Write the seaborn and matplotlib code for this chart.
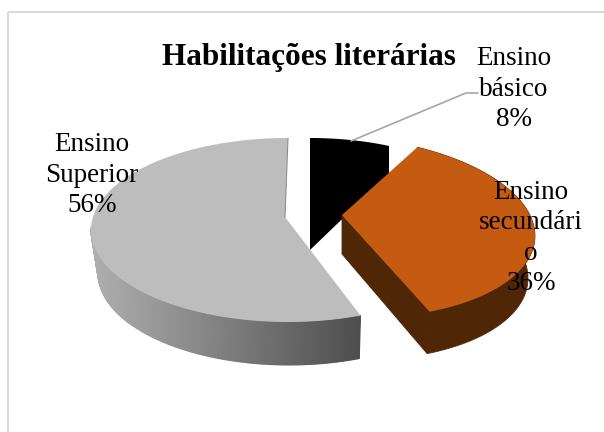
import numpy as np
import matplotlib.pyplot as plt
import seaborn as sns
from matplotlib.patches import Rectangle

# Habilitacoes literarias
categories = ['Ensino\nbásico', 'Ensino\nsecundári\no', 'Ensino\nSuperior']
shares = [8, 36, 56]
title = 'Habilitações literárias'

sns.set_theme(style='white')
plt.rcParams['font.family'] = ['Liberation Serif', 'DejaVu Serif']

top_colors = sns.color_palette(['#000000', '#C55A11', '#BDBDBD'])
wall_color = '#4F2706'

# one ellipse per slice: apex, centre, radii, shear, then the lower rim (in pixels)
shapes = [
    dict(apex=(310, 250), c=(310, 202.5), rx=164, ry=64.5, sh=0),
    dict(apex=(342, 215), c=(341, 227), rx=193, ry=91, sh=19, cb=(341, 269), rxb=186),
    dict(apex=(285, 217), c=(288, 230), rx=197, ry=92, sh=0, cb=(289, 273), rxb=191),
]

fig = plt.figure(figsize=(6.04, 4.32), dpi=100)
ax = fig.add_axes([0, 0, 1, 1])
ax.set_xlim(0, 604)
ax.set_ylim(432, 0)
ax.axis('off')

ax.add_patch(Rectangle((8, 12), 620, 440, fill=False, ec='#D9D9D9', lw=1.5))


def arc(c, rx, ry, sh, t1, t2, n=160):
    t = np.radians(np.linspace(t1, t2, n))
    v = -np.cos(t)
    return c[0] + rx * np.sin(t) + sh * v, c[1] + ry * v


# cumulative angles, clockwise from 12 o'clock
edges = np.cumsum([0] + shares) * 3.6

# black slice first, the orange one sits over its lower side
s = shapes[0]
x, y = arc(s['c'], s['rx'], s['ry'], s['sh'], edges[0], edges[1])
ax.fill(np.r_[s['apex'][0], x, x[-1]], np.r_[s['apex'][1], y, y[-1] + 28],
        color=top_colors[0], lw=0, zorder=2)

# grey slice, front wall shaded from left to right
s = shapes[2]
tx, ty = arc(s['c'], s['rx'], s['ry'], s['sh'], edges[2], 272)
bx, by = arc(s['cb'], s['rxb'], s['ry'], s['sh'], edges[2], 272)
X = np.vstack([tx, bx])
Y = np.vstack([ty, by])
ax.pcolormesh(X, Y, X, cmap=sns.blend_palette(['#B0B0B0', '#4E4E4E'], as_cmap=True),
              shading='gouraud', zorder=3)
x, y = arc(s['c'], s['rx'], s['ry'], s['sh'], edges[2], edges[3])
ax.fill(np.r_[s['apex'][0], x], np.r_[s['apex'][1], y], color=top_colors[2], lw=0, zorder=4)
ax.plot([x[-1], s['apex'][0]], [y[-1], s['apex'][1]], color='#8E8E8E', lw=0.8, zorder=4)

# orange slice with its flat dark wall
s = shapes[1]
x, y = arc(s['c'], s['rx'], s['ry'], s['sh'], edges[1], edges[2])
bx, by = arc(s['cb'], s['rxb'], s['ry'], s['sh'], edges[1], edges[2])
ax.fill(np.r_[x, bx[::-1]], np.r_[y, by[::-1]], color=wall_color, ec=wall_color, lw=0.6, zorder=5)
ax.fill([s['apex'][0], x[-1], bx[-1], s['apex'][0]],
        [s['apex'][1], y[-1], by[-1], s['apex'][1] + 39],
        color=wall_color, ec=wall_color, lw=0.6, zorder=5)
ax.fill(np.r_[s['apex'][0], x], np.r_[s['apex'][1], y], color=top_colors[1], lw=0, zorder=6)

# leader line of the small slice
ax.plot([351, 466, 478], [141, 93, 93], color='#A6A6A6', lw=1.2, zorder=7)

ax.text(309, 57, title, ha='center', va='center', fontsize=22.5, fontweight='bold',
        color='black', zorder=8)
labels = [f'{c}\n{p}%' for c, p in zip(categories, shares)]
positions = [(514, 89), (531, 238), (92, 175)]
for lab, (px, py) in zip(labels, positions):
    ax.text(px, py, lab, ha='center', va='center', fontsize=19.5, linespacing=1.29,
            color='black', zorder=8)

fig.savefig('out.png', dpi=100)
